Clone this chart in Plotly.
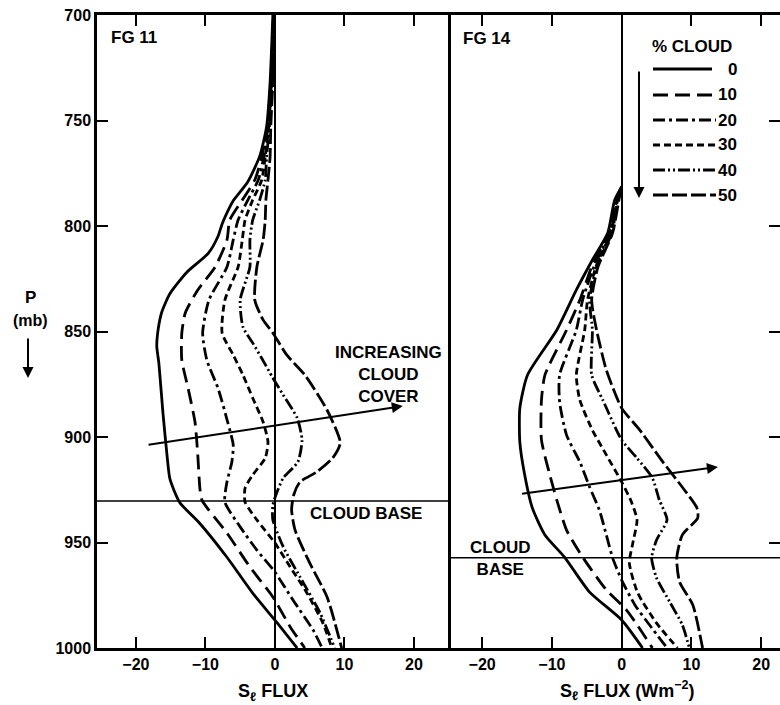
import plotly.graph_objects as go

# ---------------- data ----------------
CLOUD_PCT = ["0", "10", "20", "30", "40", "50"]
P_TICKS = [700, 750, 800, 850, 900, 950, 1000]
FLUX_TICKS = [-20, -10, 0, 10, 20]
CLOUD_BASE_FG11 = 930.3
CLOUD_BASE_FG14 = 957.2

# FG 11 (left panel): pressure (mb) and S_l flux (W m-2)
FG11_P_0 = [700, 732, 753, 767, 779, 788, 791, 799, 805, 813, 822, 832, 841, 849, 857, 865, 889, 909.5, 920, 931, 941, 957, 974, 988, 1000]
FG11_F_0 = [-0.3, -0.7, -1.2, -2.2, -3.9, -6.0, -6.5, -7.6, -8.2, -9.6, -12.7, -15.1, -16.3, -16.8, -17.0, -16.7, -16.1, -15.5, -15.1, -13.7, -10.8, -6.9, -3.2, 0.3, 3.2]
FG11_P_10 = [700, 732, 753, 767.3, 778.2, 787.7, 797.2, 806.6, 819.4, 830.3, 841.2, 850.7, 863.5, 876.8, 892.9, 908.5, 924.2, 929.9, 945.5, 961.6, 975.8, 990, 1000]
FG11_F_10 = [-0.2, -0.6, -1.1, -1.9, -2.9, -4.7, -6.5, -6.9, -8.6, -11.1, -12.9, -13.4, -13.4, -12.5, -11.5, -11.1, -10.8, -10.5, -6.9, -3.6, -0.3, 2.2, 4.3]
FG11_P_20 = [700, 732, 753, 767.3, 778.2, 787.7, 797.2, 806.6, 819.4, 835.1, 850.7, 863.5, 876.8, 892.9, 903.8, 911.8, 921.3, 930.8, 942.6, 953.6, 964.0, 977.3, 991.5, 1000]
FG11_F_20 = [-0.2, -0.5, -1.0, -1.6, -2.4, -3.9, -5.3, -6.0, -6.9, -9.5, -10.4, -9.8, -8.2, -6.8, -6.0, -6.2, -6.9, -7.2, -5.0, -2.6, 0.0, 2.6, 5.5, 6.8]
FG11_P_30 = [700, 732, 753, 767.3, 778.2, 787.7, 797.2, 806.6, 819.4, 835.1, 850.7, 861.1, 870.6, 881.5, 892.9, 902.4, 910.0, 918.0, 924.2, 930.8, 939.3, 950.2, 961.6, 973.9, 988.2, 1000]
FG11_F_30 = [-0.2, -0.5, -0.9, -1.4, -1.9, -3.2, -4.3, -4.7, -5.3, -7.2, -7.6, -6.0, -4.6, -3.2, -1.7, -1.0, -1.4, -3.2, -4.3, -4.3, -2.6, 0.0, 2.2, 4.6, 6.9, 8.2]
FG11_P_40 = [700, 732, 753, 767.3, 778.2, 787.7, 797.2, 806.6, 819.4, 835.1, 847.9, 855.4, 862.1, 872, 880.1, 891, 901.4, 911.8, 919.4, 926.1, 932.2, 939.3, 952.1, 966.3, 983.4, 1000]
FG11_F_40 = [-0.1, -0.4, -0.8, -1.2, -1.4, -2.2, -3.2, -3.6, -3.6, -5.0, -4.6, -3.2, -2.0, -0.3, 1.2, 3.2, 3.9, 3.3, 1.2, 0.3, -0.3, -0.3, 1.2, 3.6, 6.5, 8.6]
FG11_P_50 = [700, 732, 753, 767.3, 778.2, 787.7, 797.2, 806.6, 819.4, 835.1, 844.5, 850.7, 861.1, 870.6, 887.2, 902.8, 910.0, 916.6, 921.3, 927.5, 934.6, 944.1, 959.7, 975.8, 1000]
FG11_F_50 = [-0.1, -0.3, -0.6, -0.7, -1.0, -1.3, -1.4, -1.7, -2.6, -2.9, -1.7, -0.3, 1.7, 4.3, 7.5, 9.4, 8.3, 6.0, 3.6, 2.7, 2.4, 2.9, 5.0, 7.5, 9.6]

# FG 14 (right panel)
FG14_P_0 = [781.5, 787.7, 803.3, 816.1, 830.3, 849.3, 870.6, 886.3, 902.4, 918.0, 933.7, 946.4, 956.9, 973.5, 986.7, 1000]
FG14_F_0 = [0.0, -1.0, -2.0, -4.2, -6.5, -9.3, -13.5, -14.6, -14.6, -13.9, -12.8, -11.0, -8.2, -4.6, 0.0, 3.0]
FG14_P_10 = [781.5, 787.7, 803.3, 819.4, 835.1, 849.3, 870.6, 882.5, 901.4, 918.0, 929.9, 944.1, 956.9, 972.5, 982.0, 1000]
FG14_F_10 = [0.0, -0.9, -1.9, -4.3, -6.0, -7.9, -11.0, -11.5, -11.5, -10.3, -9.3, -7.9, -5.6, -2.2, 0.7, 4.4]
FG14_P_20 = [781.5, 787.7, 803.3, 819.4, 835.1, 849.3, 870.6, 883.4, 899.1, 911.8, 923.7, 934.6, 946.4, 957.3, 967.8, 979.6, 989.1, 1000]
FG14_F_20 = [0.0, -0.7, -1.7, -4.0, -5.6, -6.5, -8.9, -8.9, -7.9, -6.0, -4.6, -3.2, -2.2, -1.3, 0.0, 1.9, 4.0, 6.5]
FG14_P_30 = [781.5, 787.7, 803.3, 819.4, 835.1, 849.3, 870.6, 882.5, 896.7, 908.5, 921.3, 930.8, 939.3, 950.2, 959.7, 973.9, 988.2, 1000]
FG14_F_30 = [0.0, -0.6, -1.6, -3.7, -4.9, -5.3, -6.5, -6.0, -4.2, -2.2, 0.0, 1.4, 2.2, 1.6, 1.1, 2.3, 5.0, 8.0]
FG14_P_40 = [781.5, 787.7, 803.3, 819.4, 835.1, 849.3, 870.6, 882.5, 901.4, 910.0, 919.4, 929.9, 939.3, 948.8, 957.3, 966.8, 978.2, 989.1, 1000]
FG14_F_40 = [0.0, -0.6, -1.4, -3.6, -4.6, -4.2, -4.3, -2.7, 0.0, 2.2, 4.4, 5.4, 6.5, 5.0, 4.3, 5.0, 6.9, 8.7, 9.7]
FG14_P_50 = [781.5, 787.7, 803.3, 819.4, 835.1, 849.3, 868.2, 886.3, 896.7, 911.8, 925.1, 933.7, 938.4, 946.4, 957.3, 968.7, 979.6, 1000]
FG14_F_50 = [0.0, -0.4, -1.3, -3.4, -4.3, -3.6, -2.2, 0.0, 2.6, 5.9, 9.0, 10.8, 10.9, 8.7, 7.9, 8.3, 10.2, 11.6]

# ---------------- styles ----------------
DASHES = ["solid", "15px,7px", "12px,4px,3px,4px", "7px,4px", "12px,3px,2px,3px,2px,3px", "15px,4px"]
FONT = "Liberation Sans, Arial, sans-serif"
W, H = 780, 705


def px(xp):
    return xp / W


def py(yp):
    return 1 - yp / H


fg11 = [(FG11_P_0, FG11_F_0), (FG11_P_10, FG11_F_10), (FG11_P_20, FG11_F_20),
        (FG11_P_30, FG11_F_30), (FG11_P_40, FG11_F_40), (FG11_P_50, FG11_F_50)]
fg14 = [(FG14_P_0, FG14_F_0), (FG14_P_10, FG14_F_10), (FG14_P_20, FG14_F_20),
        (FG14_P_30, FG14_F_30), (FG14_P_40, FG14_F_40), (FG14_P_50, FG14_F_50)]

fig = go.Figure()
for i, (p, f) in enumerate(fg11):
    fig.add_trace(go.Scatter(x=f, y=p, mode="lines", name=CLOUD_PCT[i], showlegend=False,
                             line=dict(color="black", width=2.8, dash=DASHES[i], shape="spline", smoothing=0.6),
                             xaxis="x", yaxis="y"))
for i, (p, f) in enumerate(fg14):
    fig.add_trace(go.Scatter(x=f, y=p, mode="lines", name=CLOUD_PCT[i], showlegend=False,
                             line=dict(color="black", width=2.8, dash=DASHES[i], shape="spline", smoothing=0.6),
                             xaxis="x2", yaxis="y2"))

x_split = px(448)
ydom = [py(648), py(15)]
tickfont = dict(family=FONT, size=16, color="black", weight="bold")
common_x = dict(tickvals=FLUX_TICKS, ticks="inside", ticklen=11, tickwidth=2, tickcolor="black",
                showline=True, linewidth=2.5, linecolor="black", mirror="ticks",
                zeroline=True, zerolinewidth=1.5, zerolinecolor="black",
                showgrid=False, tickfont=tickfont, automargin=False)
common_y = dict(tickvals=P_TICKS, ticks="inside", ticklen=11, tickwidth=2, tickcolor="black",
                showline=True, linewidth=2.5, linecolor="black",
                zeroline=False, showgrid=False, range=[1000, 700], domain=ydom,
                tickfont=tickfont, automargin=False)

fig.update_layout(
    width=W, height=H, margin=dict(l=0, r=0, t=0, b=0),
    paper_bgcolor="white", plot_bgcolor="white",
    font=dict(family=FONT, color="black"),
    xaxis=dict(domain=[px(97), x_split], range=[-25.6, 24.9], anchor="y", **common_x),
    xaxis2=dict(domain=[x_split, 1.0], range=[-24.9, 22.7], anchor="y2", **common_x),
    yaxis=dict(anchor="x", side="left", mirror=True, **common_y),
    yaxis2=dict(anchor="x2", side="right", mirror=False, showticklabels=False, **common_y),
)

# cloud base lines
fig.add_shape(type="line", xref="x domain", x0=0, x1=1, yref="y", y0=CLOUD_BASE_FG11, y1=CLOUD_BASE_FG11,
              line=dict(color="black", width=1.5))
fig.add_shape(type="line", xref="x2 domain", x0=0, x1=1, yref="y2", y0=CLOUD_BASE_FG14, y1=CLOUD_BASE_FG14,
              line=dict(color="black", width=1.5))


def text(t, x, y, xanchor="center", size=18):
    fig.add_annotation(text=t, xref="paper", yref="paper", x=px(x), y=py(y), xanchor=xanchor,
                       yanchor="middle", showarrow=False,
                       font=dict(family=FONT, size=size, color="black", weight="bold"))


text("FG 11", 109, 38, "left", 17)
text("FG 14", 461, 39, "left", 17)
text("INCREASING<br>CLOUD<br>COVER", 388, 374, size=17)
text("CLOUD BASE", 366, 513, size=17)
text("CLOUD<br>BASE", 500, 558, size=17)
text("% CLOUD", 692, 47, size=17)
text("P", 30, 297, size=17)
text("(mb)", 30, 320, size=16)
text("S<sub>ℓ</sub> FLUX", 273, 692, size=18)
text("S<sub>ℓ</sub> FLUX (Wm<sup>−2</sup>)", 627, 690, size=18)

# P arrow
fig.add_annotation(x=px(28), y=py(378), xref="paper", yref="paper", ax=0, ay=-41, text="",
                   showarrow=True, arrowhead=2, arrowsize=1.1, arrowwidth=2, arrowcolor="black")
# legend arrow
fig.add_annotation(x=px(639), y=py(198), xref="paper", yref="paper", ax=0, ay=-128, text="",
                   showarrow=True, arrowhead=2, arrowsize=1.1, arrowwidth=2, arrowcolor="black")

# increasing cloud cover arrows
fig.add_annotation(x=18.4, y=885.3, ax=-18.4, ay=903.8, xref="x", yref="y", axref="x", ayref="y",
                   text="", showarrow=True, arrowhead=2, arrowsize=1.1, arrowwidth=2, arrowcolor="black")
fig.add_annotation(x=13.8, y=914.2, ax=-14.5, ay=927.0, xref="x2", yref="y2", axref="x2", ayref="y2",
                   text="", showarrow=True, arrowhead=2, arrowsize=1.1, arrowwidth=2, arrowcolor="black")

# legend
rows_y = [69, 95, 120, 145, 170, 195]
for i, lab in enumerate(CLOUD_PCT):
    fig.add_shape(type="line", xref="paper", yref="paper", x0=px(653), x1=px(716 if i else 712),
                  y0=py(rows_y[i]), y1=py(rows_y[i]), line=dict(color="black", width=2.8, dash=DASHES[i]))
    text(lab, 739, rows_y[i], "right", 17)

fig.write_html("out.html")
